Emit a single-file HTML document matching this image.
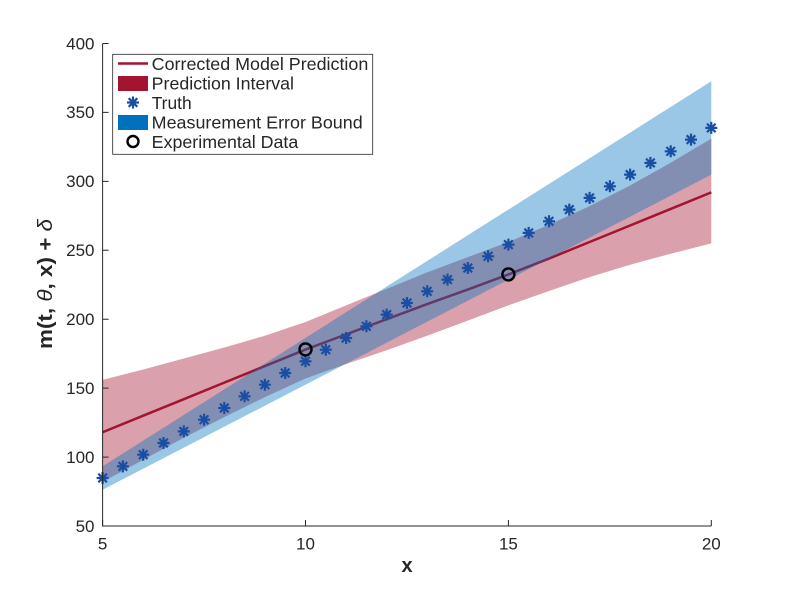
<!DOCTYPE html>
<html>
<head>
<meta charset="utf-8">
<style>
  html, body { margin: 0; padding: 0; background: #ffffff; }
  svg { display: block; }
  text { font-family: "Liberation Sans", Arial, sans-serif; fill: #262626; }
</style>
</head>
<body>
<svg width="787" height="592" viewBox="0 0 787 592" xmlns="http://www.w3.org/2000/svg">
  <defs>
    <g id="star">
      <path d="M-6,0 H6 M0,-6 V6 M-4.3,-4.3 L4.3,4.3 M-4.3,4.3 L4.3,-4.3" stroke="#1a4ea3" stroke-width="2.2" fill="none"/>
    </g>
  </defs>
  <rect x="0" y="0" width="787" height="592" fill="#ffffff"/>

  <!-- Prediction interval (red) -->
  <polygon fill="rgba(162,20,47,0.4)" points="
    102.6,379.87 143.2,369.53 183.8,358.50 224.3,347.47 264.9,335.75 305.5,321.97
    346.1,305.42 386.7,288.88 427.2,272.34 467.8,257.17 508.4,242.01 549.0,224.78
    589.6,206.16 630.1,185.49 670.7,162.74 711.3,138.61
    711.3,243.39 670.7,253.73 630.1,264.76 589.6,277.16 549.0,290.95 508.4,305.42
    467.8,320.59 427.2,335.75 386.7,350.23 346.1,364.01 305.5,378.49 264.9,397.10
    224.3,417.09 183.8,437.77 143.2,459.83 102.6,481.88"/>

  <!-- Model prediction line -->
  <polyline fill="none" stroke="#a2142f" stroke-width="2.5" stroke-linejoin="round" points="
    102.6,432.26 143.2,415.71 183.8,399.17 224.3,382.63 264.9,366.08 305.5,349.54
    346.1,334.37 386.7,319.21 427.2,304.05 467.8,289.57 508.4,274.41 549.0,258.55
    589.6,242.01 630.1,225.47 670.7,208.92 711.3,192.38"/>

  <!-- Measurement error bound (blue) -->
  <polygon fill="rgba(0,114,189,0.4)" points="102.6,466.3 711.3,81.2 711.3,174.6 102.6,489.7"/>

  <!-- Truth -->
  <use href="#star" x="102.6" y="478.0"/>
  <use href="#star" x="122.9" y="466.4"/>
  <use href="#star" x="143.2" y="454.7"/>
  <use href="#star" x="163.5" y="443.0"/>
  <use href="#star" x="183.8" y="431.4"/>
  <use href="#star" x="204.1" y="419.7"/>
  <use href="#star" x="224.3" y="408.0"/>
  <use href="#star" x="244.6" y="396.3"/>
  <use href="#star" x="264.9" y="384.7"/>
  <use href="#star" x="285.2" y="373.0"/>
  <use href="#star" x="305.5" y="361.3"/>
  <use href="#star" x="325.8" y="349.7"/>
  <use href="#star" x="346.1" y="338.0"/>
  <use href="#star" x="366.4" y="326.3"/>
  <use href="#star" x="386.7" y="314.6"/>
  <use href="#star" x="407.0" y="303.0"/>
  <use href="#star" x="427.2" y="291.3"/>
  <use href="#star" x="447.5" y="279.6"/>
  <use href="#star" x="467.8" y="268.0"/>
  <use href="#star" x="488.1" y="256.3"/>
  <use href="#star" x="508.4" y="244.6"/>
  <use href="#star" x="528.7" y="232.9"/>
  <use href="#star" x="549.0" y="221.3"/>
  <use href="#star" x="569.3" y="209.6"/>
  <use href="#star" x="589.6" y="197.9"/>
  <use href="#star" x="609.9" y="186.3"/>
  <use href="#star" x="630.1" y="174.6"/>
  <use href="#star" x="650.4" y="162.9"/>
  <use href="#star" x="670.7" y="151.3"/>
  <use href="#star" x="691.0" y="139.6"/>
  <use href="#star" x="711.3" y="127.9"/>

  <!-- Experimental data -->
  <circle cx="305.5" cy="349.4" r="6" fill="none" stroke="#000000" stroke-width="2.4"/>
  <circle cx="508.4" cy="274.4" r="6" fill="none" stroke="#000000" stroke-width="2.4"/>

  <!-- Axes -->
  <g stroke="#262626" stroke-width="1" fill="none">
    <path d="M102.6,43.5 V526 H711.3"/>
    <path d="M102.6,526 h6 M102.6,457.07 h6 M102.6,388.14 h6 M102.6,319.21 h6 M102.6,250.28 h6 M102.6,181.35 h6 M102.6,112.42 h6 M102.6,43.5 h6"/>
    <path d="M102.6,526 v-6 M305.5,526 v-6 M508.4,526 v-6 M711.3,526 v-6"/>
  </g>

  <!-- Y tick labels -->
  <g font-size="17" text-anchor="end">
    <text x="94.5" y="532">50</text>
    <text x="94.5" y="463">100</text>
    <text x="94.5" y="394">150</text>
    <text x="94.5" y="325">200</text>
    <text x="94.5" y="256">250</text>
    <text x="94.5" y="187">300</text>
    <text x="94.5" y="118">350</text>
    <text x="94.5" y="49.5">400</text>
  </g>

  <!-- X tick labels -->
  <g font-size="17" text-anchor="middle">
    <text x="102.6" y="549.5">5</text>
    <text x="305.5" y="549.5">10</text>
    <text x="508.4" y="549.5">15</text>
    <text x="711.3" y="549.5">20</text>
  </g>

  <!-- Axis labels -->
  <text x="407" y="572" font-size="20" font-weight="bold" text-anchor="middle">x</text>
  <text transform="translate(52,284) rotate(-90)" font-size="20" font-weight="bold" text-anchor="middle" textLength="130" lengthAdjust="spacingAndGlyphs">m(t, <tspan font-style="italic" font-weight="normal">θ</tspan>, x) + <tspan font-style="italic" font-weight="normal">δ</tspan></text>

  <!-- Legend -->
  <rect x="112.7" y="54.3" width="260" height="100" fill="#ffffff" stroke="#262626" stroke-width="0.8"/>
  <line x1="118" y1="63.5" x2="148" y2="63.5" stroke="#a2142f" stroke-width="2.5"/>
  <rect x="118" y="76" width="30" height="15" fill="#a2142f"/>
  <use href="#star" x="133" y="102.5"/>
  <rect x="118" y="115" width="30" height="15" fill="#0072bd"/>
  <circle cx="133" cy="141.5" r="5.5" fill="none" stroke="#000000" stroke-width="2.4"/>
  <g font-size="17.5" fill="#000">
    <text x="151.7" y="69.8" textLength="216.6" lengthAdjust="spacingAndGlyphs">Corrected Model Prediction</text>
    <text x="151.7" y="89.3" textLength="142.3" lengthAdjust="spacingAndGlyphs">Prediction Interval</text>
    <text x="151.7" y="108.8" textLength="40" lengthAdjust="spacingAndGlyphs">Truth</text>
    <text x="151.7" y="128.3" textLength="211" lengthAdjust="spacingAndGlyphs">Measurement Error Bound</text>
    <text x="151.7" y="147.8" textLength="146.6" lengthAdjust="spacingAndGlyphs">Experimental Data</text>
  </g>
</svg>
</body>
</html>
